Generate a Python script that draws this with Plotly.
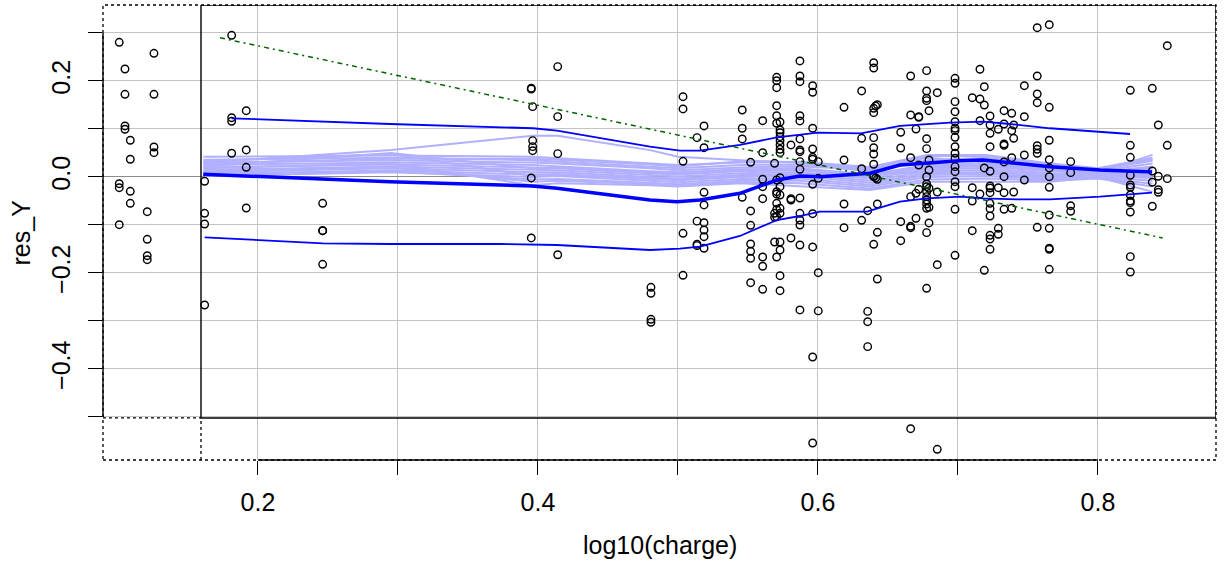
import plotly.graph_objects as go

# ---- data -------------------------------------------------------------
charge_cols = [0.1009, 0.1050, 0.1088, 0.1209, 0.1257, 0.1619, 0.1812, 0.1916, 0.2462,
               0.3952, 0.3962, 0.4141, 0.4807, 0.5036, 0.5136, 0.5186, 0.5459, 0.5519,
               0.5605, 0.5705, 0.5729, 0.5690, 0.5807, 0.5871, 0.5962, 0.6002, 0.6186,
               0.6312, 0.6355, 0.6398, 0.6412, 0.6424, 0.6591, 0.6662, 0.6700, 0.6720,
               0.6776, 0.6793, 0.6852, 0.6979, 0.7102, 0.7157, 0.7188, 0.7229, 0.7288,
               0.7329, 0.7384, 0.7398, 0.7474, 0.7566, 0.7652, 0.7805, 0.8231, 0.8388,
               0.8431, 0.8495]
res_by_col = [
    [0.2806, -0.014, -0.0223, -0.0994],
    [0.225, 0.1723, 0.1063, 0.0994],
    [0.0765, 0.0369, -0.0298, -0.0548],
    [-0.0723, -0.1298, -0.164, -0.1723],
    [0.2577, 0.1723, 0.0625, 0.0506],
    [-0.009, -0.0756, -0.0979, -0.2667],
    [0.2952, 0.1235, 0.116, 0.0494],
    [0.1381, 0.0563, 0.0202, -0.0646],
    [-0.0548, -0.1119, -0.1119, -0.1819],
    [0.185, 0.183, -0.002, -0.127],
    [0.1465, 0.0757, 0.0632, 0.0548],
    [0.23, 0.1257, 0.0486, -0.162],
    [-0.2298, -0.2423, -0.2965, -0.3027],
    [0.1673, 0.1417, 0.0327, -0.1173, -0.2048],
    [0.082, -0.092, -0.140, -0.143],
    [0.1063, 0.061, -0.0319, -0.0583, -0.0952, -0.1104, -0.1244, -0.1485],
    [0.1396, 0.1015, 0.0792, -0.0423],
    [0.0306, -0.0708, -0.1006, -0.1396, -0.1548, -0.1694, -0.2202],
    [0.1173, 0.0506, -0.0048, -0.0202, -0.0452, -0.1667, -0.186, -0.234],
    [0.2077, 0.2006, 0.186, 0.1485, 0.1277, 0.1119, -0.1667, -0.0063, -0.0306, -0.0354,
     -0.0548, -0.0673, -0.0827],
    [0.1146, 0.0979, 0.0923, 0.084, 0.0756, 0.0667, 0.0577, 0.0506, -0.0015, -0.0202,
     -0.0375, -0.0652, -0.0756, -0.1354, -0.1521, -0.2056, -0.2369],
    [0.0285, -0.0756, -0.084, -0.1354],
    [0.0667, -0.0452, -0.0479, -0.1271],
    [0.2417, 0.2104, 0.1985, 0.1277, 0.1167, 0.0792, 0.0563, 0.0527, 0.0319, 0.016,
     -0.0438, -0.0756, -0.0896, -0.1, -0.1417, -0.277],
    [0.1902, 0.1765, 0.1015, 0.0583, 0.041, 0.0369, -0.0152, -0.0765, -0.1458, -0.375, -0.5542],
    [0.0319, -0.0027, -0.1994, -0.279],
    [0.1452, 0.0354, -0.0563, -0.1056],
    [0.1792, 0.0806, 0.0173, -0.0902],
    [-0.0702, -0.28, -0.3015, -0.3535],
    [0.2381, 0.2271, 0.1431, 0.134, 0.0819, 0.061, 0.0479, 0.0265, 0.0006, 0.002, -0.1402],
    [0.1479, -0.002],
    [0.1506, -0.0048, -0.0563, -0.1152, -0.2125],
    [0.0931, 0.0604, -0.0931, -0.1327],
    [0.2104, 0.1292, 0.0402, -0.041, -0.1027, -0.1056, -0.5244],
    [0.1, -0.086, -0.034],
    [0.1256, 0.1244, 0.025, -0.0256],
    [0.2215, 0.1792, 0.164, 0.159, 0.0798, 0.059, 0.0006, -0.0146, -0.0202, -0.0306,
     -0.041, -0.0479, -0.0563, -0.0652, -0.116, -0.2319],
    [0.1381, 0.0354, 0.0146, -0.0235, -0.0631, -0.0958],
    [0.1756, -0.0313, -0.1827, -0.5673],
    [0.2056, 0.1952, 0.1569, 0.136, 0.1152, 0.1015, 0.0965, 0.0827, 0.0631, 0.0494, 0.039,
     0.0215, 0.011, -0.0098, -0.0202, -0.0673, -0.1631],
    [0.1652, -0.0223, -0.05, -0.1119],
    [0.2244, 0.1625, 0.1173, -0.0354],
    [0.1881, 0.15, 0.0188, -0.1944],
    [0.1271, 0.1083, 0.091, 0.0631, 0.0119, -0.0188, -0.0229, -0.0327, -0.0548, -0.066,
     -0.0813, -0.1215, -0.1292, -0.1506],
    [0.0994, -0.0223, -0.1069, -0.1194],
    [0.1381, 0.1104, 0.0688, 0.066, 0.0313, 0.0006, -0.0327, -0.0673],
    [0.1327, 0.0965, 0.0402, -0.0652],
    [0.1083, 0.0806, -0.0313],
    [0.1902, 0.1256, 0.0458, -0.0063],
    [0.311, 0.2104, 0.1729, 0.1548, 0.0652, 0.0577, 0.0494, -0.1048],
    [0.3173, 0.1452, 0.0765, 0.036, 0.0188, 0.0006, -0.0215, -0.0792, -0.1069, -0.1485,
     -0.1506, -0.1923],
    [0.0319, 0.009, -0.0598, -0.0715],
    [0.1806, 0.066, 0.041, 0.0035, -0.0167, -0.0215, -0.0375, -0.05, -0.0535, -0.0729,
     -0.166, -0.1979],
    [0.1848, 0.0125, -0.011, -0.061],
    [0.1083, 0.0015, -0.0265, -0.0319],
    [0.2735, 0.066, -0.0035],
]

# smoother (thick) and spread lines
smooth_x = [0.1609, 0.2, 0.2943, 0.3957, 0.4136, 0.48, 0.4993, 0.5157, 0.5443, 0.5707,
            0.5871, 0.6014, 0.6371, 0.6586, 0.6779, 0.7014, 0.7179, 0.7393, 0.7657,
            0.8014, 0.8386]
smooth_y = [0.0056, 0.001, -0.0098, -0.0188, -0.0235, -0.0479, -0.0515, -0.0479, -0.034,
            -0.0063, 0.0021, 0.0006, 0.0077, 0.025, 0.0298, 0.034, 0.0354, 0.0285,
            0.0215, 0.0146, 0.0104]
upper_x = [0.1812, 0.2943, 0.3964, 0.4136, 0.48, 0.5014, 0.5157, 0.5443, 0.5707, 0.5871,
           0.6, 0.6307, 0.6586, 0.6943, 0.7179, 0.7371, 0.7657, 0.8229]
upper_y = [0.1223, 0.1104, 0.1015, 0.0965, 0.0631, 0.0548, 0.0548, 0.0667, 0.0827, 0.0875,
           0.0923, 0.091, 0.1063, 0.1131, 0.1152, 0.1104, 0.1015, 0.0896]
lower_x = [0.1619, 0.2464, 0.2943, 0.3729, 0.4136, 0.48, 0.5014, 0.5157, 0.5443, 0.5707,
           0.5871, 0.6014, 0.635, 0.6586, 0.6779, 0.7014, 0.7179, 0.7421, 0.7657, 0.8014,
           0.8386]
lower_y = [-0.1256, -0.1381, -0.1396, -0.1396, -0.1417, -0.1521, -0.1494, -0.1452, -0.1229,
           -0.0896, -0.0813, -0.0723, -0.0723, -0.0515, -0.0444, -0.041, -0.0444, -0.0465,
           -0.0465, -0.041, -0.0327]

# bootstrap smooths (light lines)
boot_x = [0.161, 0.295, 0.396, 0.414, 0.48, 0.50, 0.545, 0.587, 0.637, 0.678, 0.72, 0.766, 0.80, 0.839]
boot_1 = [0.030, 0.056, 0.086, 0.086, 0.056, 0.042, 0.035, 0.030, 0.015, 0.040, 0.030, 0.020, 0.010, 0.046]
boot_2 = [0.042, 0.045, 0.042, 0.039, 0.028, 0.025, 0.030, 0.032, 0.021, 0.046, 0.046, 0.028, 0.018, 0.040]
boot_3 = [0.036, 0.040, 0.035, 0.032, 0.022, 0.018, 0.025, 0.026, 0.012, 0.035, 0.040, 0.024, 0.015, 0.034]
boot_4 = [0.030, 0.035, 0.030, 0.028, 0.018, 0.014, 0.020, 0.022, 0.016, 0.030, 0.034, 0.020, 0.012, 0.028]
boot_5 = [0.025, 0.030, 0.025, 0.022, 0.012, 0.010, 0.016, 0.018, 0.005, 0.025, 0.028, 0.016, 0.010, 0.022]
boot_6 = [0.020, 0.026, 0.020, 0.018, 0.008, 0.005, 0.012, 0.014, 0.002, 0.020, 0.022, 0.012, 0.008, 0.016]
boot_7 = [0.015, 0.022, 0.015, 0.014, 0.004, 0.001, 0.008, 0.010, -0.003, 0.016, 0.018, 0.008, 0.006, 0.010]
boot_8 = [0.010, 0.018, 0.010, 0.010, 0.000, -0.003, 0.004, 0.006, -0.008, 0.012, 0.014, 0.005, 0.004, 0.004]
boot_9 = [0.005, 0.014, 0.005, 0.006, -0.004, -0.007, 0.000, 0.002, -0.012, 0.008, 0.010, 0.002, 0.002, -0.002]
boot_10 = [0.002, 0.010, 0.000, 0.002, -0.008, -0.011, -0.004, -0.003, -0.016, 0.004, 0.006, -0.002, 0.000, -0.008]
boot_11 = [0.008, 0.012, -0.005, -0.004, -0.012, -0.015, -0.008, -0.008, -0.020, 0.000, 0.002, -0.005, -0.002, -0.014]
boot_12 = [0.012, 0.020, -0.010, -0.008, -0.015, -0.018, -0.011, -0.013, -0.024, -0.005, -0.003, -0.008, -0.003, -0.020]
boot_13 = [0.018, 0.028, -0.017, -0.013, -0.017, -0.020, -0.013, -0.020, -0.027, -0.010, -0.010, -0.010, 0.000, -0.031]
boot_14 = [0.028, 0.038, 0.038, 0.036, 0.026, 0.022, 0.033, 0.030, 0.019, 0.043, 0.044, 0.026, 0.016, 0.037]
boot_15 = [0.033, 0.048, 0.002, 0.004, -0.002, -0.004, 0.002, 0.004, 0.008, 0.010, 0.008, 0.000, 0.003, 0.001]
boot_16 = [0.022, 0.050, 0.018, 0.020, 0.010, 0.007, 0.014, 0.016, 0.000, 0.022, 0.025, 0.014, 0.009, 0.019]
boot_lines = [boot_1, boot_2, boot_3, boot_4, boot_5, boot_6, boot_7, boot_8,
              boot_9, boot_10, boot_11, boot_12, boot_13, boot_14, boot_15, boot_16]

# linear fit line (end points)
fit_x = [0.1729, 0.8462]
fit_y = [0.290, -0.127]

# axis ticks
x_ticks = [0.2, 0.3, 0.4, 0.5, 0.6, 0.7, 0.8]
x_labels = ["0.2", "", "0.4", "", "0.6", "", "0.8"]
y_ticks = [0.3, 0.2, 0.1, 0.0, -0.1, -0.2, -0.3, -0.4, -0.5]
y_labels = ["", "0.2", "", "0.0", "", "\u22120.2", "", "\u22120.4", ""]

X_RANGE = [0.0893, 0.8843]
Y_RANGE = [-0.5896, 0.3583]
INNER_X0 = 0.1593
INNER_Y0 = -0.502

# ---- build ------------------------------------------------------------
px_, py_ = [], []
for cx, ys in zip(charge_cols, res_by_col):
    for v in ys:
        px_.append(cx)
        py_.append(v)

fig = go.Figure()
FONT = "Liberation Sans, Arial, sans-serif"

for bl in boot_lines:
    fig.add_trace(go.Scatter(x=boot_x, y=bl, mode="lines",
                             line=dict(color="rgb(176,176,255)", width=2), hoverinfo="skip"))

fig.add_trace(go.Scatter(x=px_, y=py_, mode="markers",
                         marker=dict(symbol="circle-open", size=7.5, color="black",
                                     line=dict(width=1.4, color="black"))))

fig.add_trace(go.Scatter(x=upper_x, y=upper_y, mode="lines", line=dict(color="blue", width=1.8)))
fig.add_trace(go.Scatter(x=lower_x, y=lower_y, mode="lines", line=dict(color="blue", width=1.8)))
fig.add_trace(go.Scatter(x=smooth_x, y=smooth_y, mode="lines", line=dict(color="blue", width=3.5)))
fig.add_trace(go.Scatter(x=fit_x, y=fit_y, mode="lines",
                         line=dict(color="#006400", width=1.5, dash="5px,4px,2px,4px")))

dotted = dict(color="black", width=1.3, dash="dot")
solid = dict(color="black", width=1.4)
shapes = [
    # outer dotted frame
    dict(type="rect", xref="paper", yref="paper", x0=0, x1=1, y0=0, y1=1, line=dotted),
    dict(type="line", xref="x", yref="paper", x0=INNER_X0, x1=INNER_X0, y0=0,
         y1=(INNER_Y0 - Y_RANGE[0]) / (Y_RANGE[1] - Y_RANGE[0]), line=dotted),
    dict(type="line", xref="paper", yref="y", x0=0,
         x1=(INNER_X0 - X_RANGE[0]) / (X_RANGE[1] - X_RANGE[0]), y0=INNER_Y0, y1=INNER_Y0, line=dotted),
    # inner solid box
    dict(type="rect", xref="x", yref="y", x0=INNER_X0, x1=X_RANGE[1], y0=INNER_Y0, y1=Y_RANGE[1], line=solid),
    # axis lines
    dict(type="line", xref="paper", yref="y", x0=0, x1=0, y0=y_ticks[-1], y1=y_ticks[0], line=solid),
    dict(type="line", xref="x", yref="paper", x0=x_ticks[0], x1=x_ticks[-1], y0=0, y1=0, line=solid),
]

fig.update_layout(
    width=1224, height=562,
    margin=dict(l=103, r=8, t=5, b=102),
    paper_bgcolor="white", plot_bgcolor="white",
    showlegend=False,
    font=dict(family=FONT, size=25, color="black"),
    shapes=shapes,
    xaxis=dict(range=X_RANGE, tickvals=x_ticks, ticktext=x_labels, ticks="outside",
               ticklen=14, tickwidth=1.4, tickcolor="black", showline=False,
               showgrid=True, gridcolor="#C4C4C4", gridwidth=1.4, zeroline=False,
               ticklabelstandoff=6, tickfont=dict(size=25)),
    yaxis=dict(range=Y_RANGE, tickvals=y_ticks, ticktext=y_labels, ticks="outside",
               ticklen=14, tickwidth=1.4, tickcolor="black", showline=False,
               showgrid=True, gridcolor="#C4C4C4", gridwidth=1.4,
               zeroline=True, zerolinecolor="#8C8C8C", zerolinewidth=1.4,
               tickangle=-90, ticklabelstandoff=8, tickfont=dict(size=25)),
    annotations=[
        dict(text="log10(charge)", xref="paper", yref="paper", x=0.5, y=0,
             xanchor="center", yanchor="middle", yshift=-85, showarrow=False,
             font=dict(size=25)),
        dict(text="res_Y", xref="paper", yref="paper", x=0, y=0.5, textangle=-90,
             xanchor="center", yanchor="middle", xshift=-83, showarrow=False,
             font=dict(size=25)),
    ],
)

fig.write_html("out.html", config={"displayModeBar": False},
               post_script="document.body.style.margin='0';document.body.style.padding='0';")
